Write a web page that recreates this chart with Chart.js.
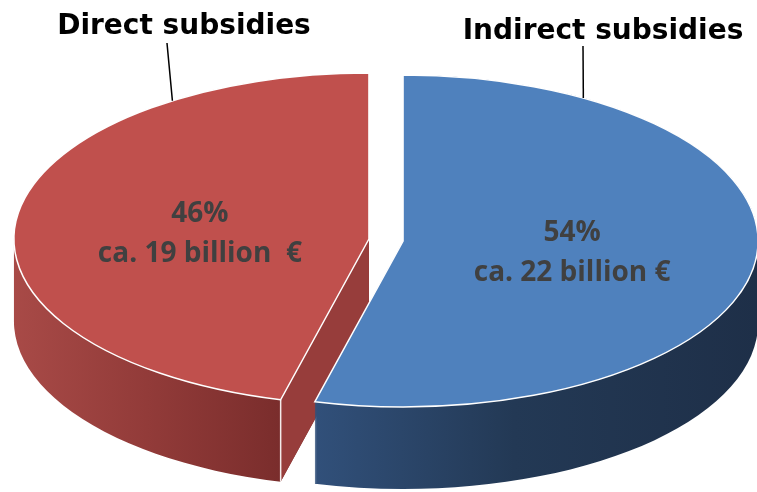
<!DOCTYPE html>
<html>
<head>
<meta charset="utf-8">
<script src="https://cdn.jsdelivr.net/npm/chart.js@4.4.1/dist/chart.umd.min.js"></script>
<style>
  html, body { margin: 0; padding: 0; background: #ffffff; }
  #wrap { width: 757px; height: 492px; position: relative; }
</style>
</head>
<body>
<div id="wrap"><canvas id="c"></canvas></div>
<script>
// ---- data ----
const categories = ['Indirect subsidies', 'Direct subsidies'];
const shares = [54, 46];                       // percent
const amountsBillionEUR = [22, 19];
const percentLabels = ['54%', '46%'];
const amountLabels = ['ca. 22 billion €', 'ca. 19 billion  €'];

// ---- styling / 3D view (not data) ----
const topColors = ['#4f81bd', '#c0504d'];
const cutColors = ['#2c4a70', '#973d3b'];
const sideStops = [
  [[0, '#31507a'], [0.45, '#233955'], [1, '#1e2f48']],
  [[0, '#a84a47'], [0.5, '#923b39'], [1, '#7a2d2c']]
];
const VIEW = { cx: 386, cy: 240, rx: 355, ry: 166, depth: 82, explode: 17.2 };
const TITLE_POS = [
  { tx: 603, ty: 39, lx: 583, ly: 46, frac: 0.157 },
  { tx: 184, ty: 34, lx: 167, ly: 43, frac: 0.797 }
];

function viewGeom(chart) {
  const arcs = chart.getDatasetMeta(0).data;
  const { x, y, outerRadius: R } = arcs[0];
  const sx = VIEW.rx / R, sy = VIEW.ry / R;
  return { arcs, x, y, R, sx, sy };
}
function explodeOf(arc, g) {
  const mid = (arc.startAngle + arc.endAngle) / 2;
  return { ex: Math.cos(mid) * VIEW.explode, ey: Math.sin(mid) * VIEW.explode * g.sy / g.sx };
}
function toView(ctx, g, ex, ey) {
  ctx.translate(VIEW.cx + ex, VIEW.cy + ey);
  ctx.scale(g.sx, g.sy);
  ctx.translate(-g.x, -g.y);
}
function screenPt(g, ex, ey, t, r) {
  return { px: VIEW.cx + ex + r * Math.cos(t) * g.sx, py: VIEW.cy + ey + r * Math.sin(t) * g.sy };
}

const pie3d = {
  id: 'pie3d',
  beforeDatasetsDraw(chart) {
    const ctx = chart.ctx;
    const g = viewGeom(chart);
    const order = g.arcs.map((a, i) => i).reverse();
    order.forEach(i => {
      const arc = g.arcs[i];
      const { ex, ey } = explodeOf(arc, g);
      const a0 = arc.startAngle, a1 = arc.endAngle;
      // extruded side
      ctx.save();
      toView(ctx, g, ex, ey);
      ctx.beginPath();
      for (let d = VIEW.depth; d >= 0; d -= 1) {
        const oy = d / g.sy;
        ctx.moveTo(g.x, g.y + oy);
        ctx.arc(g.x, g.y + oy, g.R, a0, a1);
        ctx.closePath();
      }
      ctx.restore();
      const pL = screenPt(g, ex, ey, Math.PI, g.R).px;
      const pR = screenPt(g, ex, ey, 0, g.R).px;
      let gx0, gx1;
      if (i === 1) { gx0 = pL; gx1 = screenPt(g, ex, ey, a0, g.R).px; }
      else { gx0 = screenPt(g, ex, ey, a1, g.R).px; gx1 = pR; }
      const grad = ctx.createLinearGradient(gx0, 0, gx1, 0);
      sideStops[i].forEach(s => grad.addColorStop(s[0], s[1]));
      ctx.fillStyle = grad;
      ctx.fill();
      // visible cut faces
      const edges = [];
      if (Math.cos(a0) < -0.01) edges.push(a0);
      if (Math.cos(a1) > 0.01) edges.push(a1);
      edges.forEach(a => {
        const c = screenPt(g, ex, ey, a, 0);
        const o = screenPt(g, ex, ey, a, g.R);
        ctx.beginPath();
        ctx.moveTo(c.px, c.py);
        ctx.lineTo(o.px, o.py);
        ctx.lineTo(o.px, o.py + VIEW.depth);
        ctx.lineTo(c.px, c.py + VIEW.depth);
        ctx.closePath();
        ctx.fillStyle = cutColors[i];
        ctx.fill();
        ctx.beginPath();
        ctx.moveTo(o.px, o.py);
        ctx.lineTo(o.px, o.py + VIEW.depth);
        ctx.strokeStyle = 'rgba(255,255,255,0.9)';
        ctx.lineWidth = 1.5;
        ctx.stroke();
      });
      // top face (library arc element)
      ctx.save();
      toView(ctx, g, ex, ey);
      arc.draw(ctx);
      ctx.beginPath();
      ctx.moveTo(g.x, g.y);
      ctx.arc(g.x, g.y, g.R, a0, a1);
      ctx.closePath();
      ctx.restore();
      ctx.strokeStyle = '#ffffff';
      ctx.lineWidth = 1.5;
      ctx.lineJoin = 'miter';
      ctx.stroke();
    });
    return false;
  },
  afterDraw(chart) {
    const ctx = chart.ctx;
    const g = viewGeom(chart);
    g.arcs.forEach((arc, i) => {
      const { ex, ey } = explodeOf(arc, g);
      const mid = (arc.startAngle + arc.endAngle) / 2;
      const c = screenPt(g, ex, ey, mid, g.R * 0.48);
      const cy = c.py + (i === 1 ? 3 : 0);
      ctx.save();
      ctx.fillStyle = '#404040';
      ctx.font = '700 28px "Open Sans"';
      ctx.textAlign = 'center';
      ctx.textBaseline = 'alphabetic';
      ctx.fillText(percentLabels[i], c.px, cy - 10);
      ctx.fillText(amountLabels[i], c.px, cy + 30);
      // category title + leader line
      const tp = TITLE_POS[i];
      ctx.fillStyle = '#000000';
      ctx.font = '700 28px "DejaVu Sans"';
      ctx.fillText(categories[i], tp.tx, tp.ty);
      const t = arc.startAngle + (arc.endAngle - arc.startAngle) * tp.frac;
      const e = screenPt(g, ex, ey, t, g.R);
      ctx.beginPath();
      ctx.moveTo(tp.lx, tp.ly);
      ctx.lineTo(e.px, e.py);
      ctx.strokeStyle = '#000000';
      ctx.lineWidth = 1.5;
      ctx.stroke();
      ctx.restore();
    });
  }
};

new Chart(document.getElementById('c'), {
  type: 'pie',
  data: {
    labels: categories,
    datasets: [{
      data: shares,
      backgroundColor: topColors,
      borderWidth: 0,
      offset: 0
    }]
  },
  options: {
    responsive: true,
    maintainAspectRatio: false,
    animation: false,
    events: [],
    layout: { padding: 0 },
    plugins: { legend: { display: false }, tooltip: { enabled: false } }
  },
  plugins: [pie3d]
});
</script>
</body>
</html>
